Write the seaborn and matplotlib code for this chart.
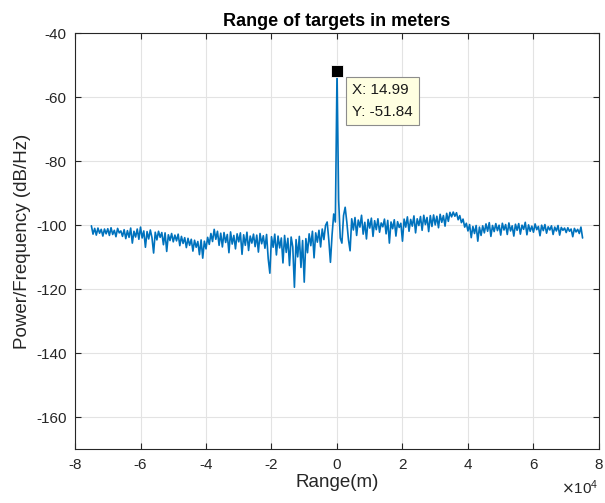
import numpy as np
import pandas as pd
import matplotlib
matplotlib.use("Agg")
import matplotlib.pyplot as plt
import seaborn as sns

# Range axis: 500 m bins, with the target bin at 14.99 m
peak_range = 14.99
peak_power = -51.84

# Power spectral density (dB/Hz) per range bin, from -75 km to +75 km
power_db = [
    # -75 km .. -70.5 km
    -100.2, -102.8, -101.0, -103.1, -100.9, -102.5, -101.3, -103.4, -101.2, -102.7,
    # -70 km .. -65.5 km
    -101.1, -103.2, -100.8, -102.9, -101.6, -103.6, -101.0, -102.4, -101.8, -103.5,
    # -65 km .. -60.5 km
    -101.4, -104.2, -101.7, -103.8, -100.9, -105.6, -101.9, -103.7, -101.2, -104.4,
    # -60 km .. -55.5 km
    -100.6, -104.0, -101.8, -106.9, -102.0, -104.3, -101.5, -103.9, -108.7, -102.2,
    # -55 km .. -50.5 km
    -104.6, -101.9, -103.8, -102.3, -106.1, -102.4, -108.2, -103.0, -104.8, -102.6,
    # -50 km .. -45.5 km
    -105.2, -103.1, -104.9, -102.8, -106.4, -103.5, -105.7, -103.9, -107.0, -104.1,
    # -45 km .. -40.5 km
    -106.3, -104.4, -108.1, -104.7, -106.9, -105.1, -109.2, -104.6, -110.3, -105.0,
    # -40 km .. -35.5 km
    -107.4, -103.8, -106.0, -102.6, -105.1, -101.3, -104.4, -101.9, -106.3, -102.5,
    # -35 km .. -30.5 km
    -106.8, -102.3, -105.4, -102.9, -108.6, -102.1, -105.9, -103.2, -107.4, -102.7,
    # -30 km .. -25.5 km
    -105.2, -102.4, -109.1, -103.0, -106.3, -102.2, -107.9, -103.4, -105.6, -102.8,
    # -25 km .. -20.5 km
    -106.7, -103.1, -108.4, -102.6, -105.8, -103.3, -107.2, -102.9, -110.5, -115.0,
    # -20 km .. -15.5 km
    -103.6, -106.9, -102.8, -109.3, -103.4, -107.1, -104.0, -111.8, -103.2, -108.5,
    # -15 km .. -10.5 km
    -104.1, -112.6, -103.7, -106.8, -119.4, -104.5, -109.9, -103.5, -113.2, -104.8,
    # -10 km .. -5.5 km
    -117.8, -104.2, -108.6, -102.7, -106.4, -101.9, -110.2, -102.4, -105.3, -101.6,
    # -5 km .. -0.5 km
    -106.8, -101.2, -104.5, -100.1, -99.0, -104.6, -111.6, -103.0, -96.5, -99.0,
    # 0 km .. 4.5 km
    peak_power, -92.0, -104.0, -105.6, -97.0, -94.4, -99.0, -104.5, -108.0, -98.0,
    # 5 km .. 9.5 km
    -101.5, -97.6, -103.2, -98.4, -100.6, -96.9, -102.8, -99.1, -104.3, -98.2,
    # 10 km .. 14.5 km
    -100.9, -97.8, -103.5, -98.6, -101.4, -98.0, -102.2, -99.3, -100.5, -98.1,
    # 15 km .. 19.5 km
    -102.7, -98.5, -105.6, -99.0, -101.1, -98.3, -103.4, -98.9, -100.7, -99.4,
    # 20 km .. 24.5 km
    -105.0, -98.1, -100.6, -97.4, -101.9, -98.2, -100.3, -97.1, -102.4, -98.0,
    # 25 km .. 29.5 km
    -100.1, -97.3, -101.6, -96.9, -99.8, -97.6, -102.0, -97.0, -100.4, -96.8,
    # 30 km .. 34.5 km
    -99.9, -97.2, -100.8, -96.6, -99.1, -97.0, -100.3, -96.3, -98.8, -96.0,
    # 35 km .. 39.5 km
    -97.4, -95.9, -97.2, -96.1, -98.3, -97.0, -99.2, -98.1, -100.6, -99.4,
    # 40 km .. 44.5 km
    -101.8, -99.8, -103.9, -100.4, -102.6, -100.1, -105.0, -100.6, -103.2, -100.2,
    # 45 km .. 49.5 km
    -102.4, -99.6, -101.9, -99.2, -103.5, -100.1, -102.0, -99.5, -101.7, -100.0,
    # 50 km .. 54.5 km
    -103.1, -99.4, -101.5, -99.8, -102.9, -99.3, -101.8, -100.2, -103.4, -99.7,
    # 55 km .. 59.5 km
    -101.6, -99.5, -102.8, -100.0, -101.3, -99.1, -103.0, -99.9, -101.9, -100.3,
    # 60 km .. 64.5 km
    -102.2, -99.6, -101.4, -100.4, -103.3, -100.0, -101.7, -99.8, -102.5, -100.5,
    # 65 km .. 69.5 km
    -101.5, -100.2, -102.9, -100.6, -101.8, -100.1, -103.1, -100.7, -101.6, -100.9,
    # 70 km .. 74.5 km
    -102.3, -100.8, -101.9, -101.2, -103.6, -101.0, -102.1, -101.3, -102.6, -100.6,
    # 75 km
    -104.0,
]

range_m = np.concatenate([np.arange(-75000, 0, 500), [peak_range],
                          np.arange(500, 75001, 500)])

x_ticks = [-80000, -60000, -40000, -20000, 0, 20000, 40000, 60000, 80000]
x_tick_labels = ["-8", "-6", "-4", "-2", "0", "2", "4", "6", "8"]
y_ticks = [-160, -140, -120, -100, -80, -60, -40]

df = pd.DataFrame({"range": range_m, "power": power_db})

sns.set_style("whitegrid")
plt.rcParams["font.family"] = ["Liberation Sans", "DejaVu Sans"]
plt.rcParams["axes.unicode_minus"] = False

fig = plt.figure(figsize=(6.05, 5.03), dpi=100)
ax = fig.add_axes([0.124, 0.107, 0.866, 0.827])

sns.lineplot(data=df, x="range", y="power", ax=ax, color="#0072BD",
             linewidth=1.2, sort=False, estimator=None, errorbar=None)

ax.set_xlim(-80000, 80000)
ax.set_ylim(-170, -40)
ax.set_xticks(x_ticks)
ax.set_xticklabels(x_tick_labels)
ax.set_yticks(y_ticks)

ax.grid(True, color="#e3e3e3", linewidth=0.8)
ax.set_axisbelow(True)
for side in ["left", "right", "top", "bottom"]:
    ax.spines[side].set_visible(True)
    ax.spines[side].set_color("#262626")
    ax.spines[side].set_linewidth(0.8)
ax.tick_params(axis="both", which="both", direction="in", length=4,
               width=0.8, color="#262626", labelsize=11, labelcolor="#262626",
               top=True, right=True, bottom=True, left=True, pad=6)

ax.set_title("Range of targets in meters", fontsize=13, fontweight="bold",
             color="#000000", pad=5)
ax.set_xlabel("Range(m)", fontsize=13.5, color="#262626", labelpad=2)
ax.set_ylabel("Power/Frequency (dB/Hz)", fontsize=13.5, color="#262626",
              labelpad=4)

# exponent for the range axis
fig.text(0.928, 0.012, r"$\times\mathregular{10^{4}}$", fontsize=11,
         color="#262626", ha="left", va="bottom")

# data tip on the strongest return
ax.plot([peak_range], [peak_power], marker="s", markersize=8,
        markerfacecolor="black", markeredgecolor="white",
        markeredgewidth=0.6, linestyle="none", zorder=5)
ax.annotate(f"X: {peak_range:.2f}\nY: {peak_power:.2f}",
            xy=(peak_range, peak_power), xytext=(15, -12),
            textcoords="offset pixels", ha="left", va="top", fontsize=11,
            color="#1a1a1a", linespacing=1.7, zorder=6,
            bbox=dict(boxstyle="square,pad=0.4", facecolor="#ffffe1",
                      edgecolor="#8c8c8c", linewidth=0.8))

fig.savefig("out.png", dpi=100)
